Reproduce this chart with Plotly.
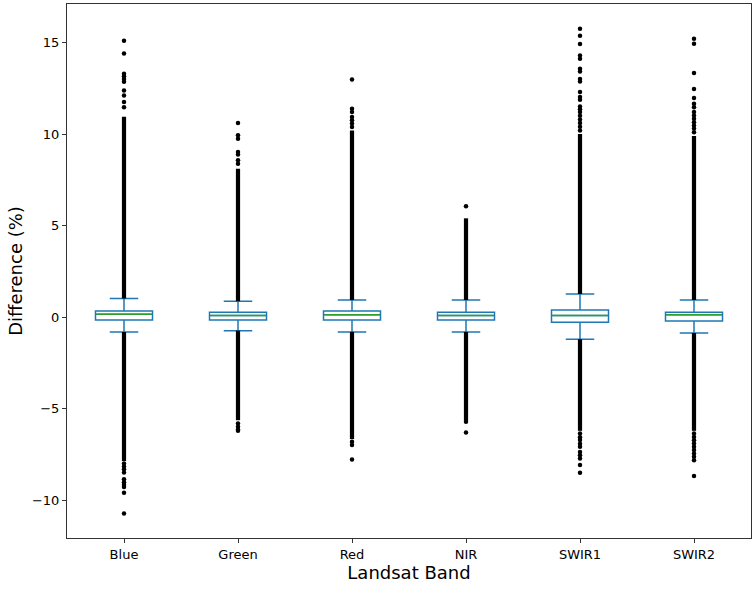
import plotly.graph_objects as go

bands = ["Blue", "Green", "Red", "NIR", "SWIR1", "SWIR2"]

# box statistics (%)
q1 = [-0.15, -0.15, -0.15, -0.15, -0.27, -0.20]
median = [0.16, 0.09, 0.13, 0.09, 0.09, 0.13]
q3 = [0.34, 0.27, 0.34, 0.27, 0.40, 0.27]
lower_whisker = [-0.80, -0.73, -0.80, -0.80, -1.20, -0.86]
upper_whisker = [1.02, 0.87, 0.94, 0.94, 1.27, 0.94]

# where the solid run of outliers stops
dense_top = [10.95, 8.10, 10.20, 5.40, 10.00, 9.90]
dense_bottom = [-7.85, -5.62, -6.65, -5.65, -6.20, -6.20]

# the separate outlier dots
blue_out = [11.47, 11.75, 12.10, 12.38, 12.85, 13.00, 13.15, 13.29, 14.40, 15.10,
            -7.98, -8.15, -8.30, -8.47, -8.84, -9.00, -9.15, -9.27, -9.58, -10.71]
green_out = [8.38, 8.57, 8.88, 9.02, 9.75, 9.93, 10.60, -5.80, -5.98, -6.13, -6.20]
red_out = [10.38, 10.57, 10.75, 10.93, 11.20, 11.38, 12.98, -6.80, -6.98, -7.77]
nir_out = [6.06, -5.71, -6.29]
swir1_out = [10.20, 10.40, 10.60, 10.80, 11.00, 11.20, 11.35, 11.51, 11.87, 12.02,
             12.29, 12.87, 13.00, 13.42, 13.57, 14.11, 14.29, 14.91, 15.37, 15.75,
             -6.35, -6.55, -6.70, -6.90, -7.07, -7.35, -7.53, -7.71, -8.07, -8.49]
swir2_out = [10.10, 10.30, 10.47, 10.65, 10.84, 11.02, 11.20, 11.47, 11.66, 11.97,
             12.46, 13.33, 14.93, 15.20, -6.35, -6.53, -6.71, -6.89, -7.07, -7.25,
             -7.44, -7.62, -7.80, -8.66]
outliers = [blue_out, green_out, red_out, nir_out, swir1_out, swir2_out]

blue = "#1f77b4"
green = "#2ca02c"

fig = go.Figure()

for i, b in enumerate(bands):
    # solid runs of fliers, drawn as thick lines
    fig.add_trace(go.Scatter(x=[i, i], y=[upper_whisker[i], dense_top[i]], mode="lines",
                             line=dict(color="black", width=4.2), hoverinfo="skip"))
    fig.add_trace(go.Scatter(x=[i, i], y=[lower_whisker[i], dense_bottom[i]], mode="lines",
                             line=dict(color="black", width=4.2), hoverinfo="skip"))
    fig.add_trace(go.Scatter(x=[i] * len(outliers[i]), y=outliers[i], mode="markers",
                             marker=dict(color="black", size=4.5), name=b))
    fig.add_trace(go.Box(x=[i], q1=[q1[i]], median=[median[i]], q3=[q3[i]],
                         lowerfence=[lower_whisker[i]], upperfence=[upper_whisker[i]],
                         boxpoints=False, width=0.5, whiskerwidth=0.5,
                         line=dict(color=blue, width=1.5), fillcolor="white", name=b))
    fig.add_trace(go.Scatter(x=[i - 0.24, i + 0.24], y=[median[i], median[i]], mode="lines",
                             line=dict(color=green, width=1.5), hoverinfo="skip"))

fig.update_layout(
    width=754, height=589,
    margin=dict(l=67, r=3, t=4, b=51),
    plot_bgcolor="white", paper_bgcolor="white",
    showlegend=False,
    font=dict(family="DejaVu Sans", size=13, color="black"),
)
fig.update_xaxes(range=[-0.5, 5.5], tickvals=list(range(len(bands))), ticktext=bands,
                 showgrid=False, zeroline=False, showline=True, linecolor="#333",
                 linewidth=1, mirror=True, ticks="outside", ticklen=4, tickcolor="#333",
                 automargin=False,
                 title=dict(text="Landsat Band", font=dict(size=18), standoff=2))
fig.update_yaxes(range=[-12.05, 17.1], tickvals=[-10, -5, 0, 5, 10, 15],
                 showgrid=False, zeroline=False, showline=True, linecolor="#333",
                 linewidth=1, mirror=True, ticks="outside", ticklen=4, tickcolor="#333",
                 automargin=False,
                 title=dict(text="Difference (%)", font=dict(size=18), standoff=4))

# drop the page's default body margin so the figure sits at the window corner
fig.write_html("out.html", config={"displayModeBar": False},
               post_script="document.body.style.margin = '0';")
